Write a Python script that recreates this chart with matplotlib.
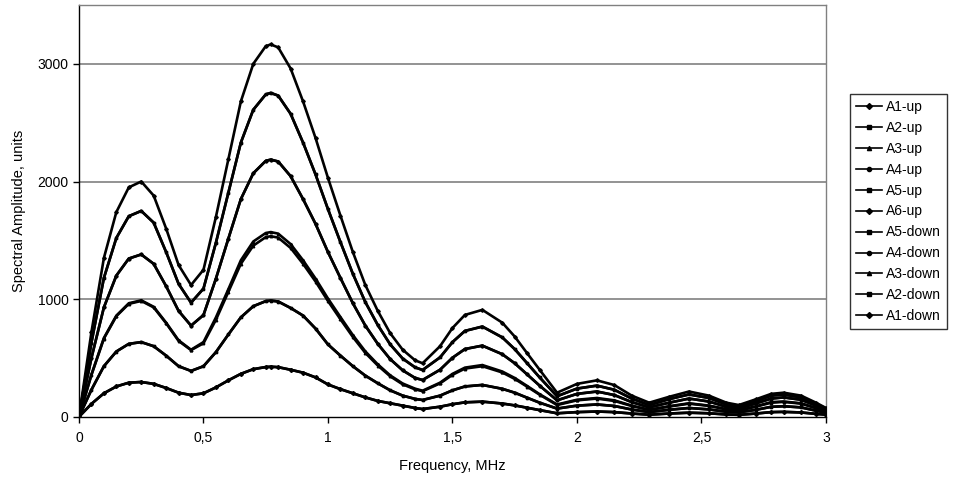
import numpy as np
import matplotlib
matplotlib.use("Agg")
import matplotlib.pyplot as plt
from matplotlib.ticker import FixedLocator, FuncFormatter

plt.rcParams['font.family'] = ['Liberation Sans', 'DejaVu Sans']

# frequency points, MHz
freq = [0, 0.05, 0.1, 0.15, 0.2, 0.25, 0.3, 0.35, 0.4, 0.45,
        0.5, 0.55, 0.6, 0.65, 0.7, 0.75, 0.77, 0.8, 0.85, 0.9,
        0.95, 1.0, 1.05, 1.1, 1.15, 1.2, 1.25, 1.3, 1.35, 1.38,
        1.45, 1.5, 1.55, 1.62, 1.7, 1.75, 1.8, 1.85, 1.92,
        2.0, 2.08, 2.15, 2.22, 2.29, 2.37, 2.45, 2.53, 2.6,
        2.65, 2.72, 2.78, 2.83, 2.9, 2.96, 3.0]

# spectral amplitude, units
a6 = [0, 720, 1350, 1740, 1950, 2000, 1880, 1600, 1290, 1120,
      1250, 1700, 2190, 2680, 3000, 3150, 3165, 3140, 2960, 2680,
      2370, 2030, 1710, 1400, 1120, 900, 710, 570, 480, 455,
      600, 755, 866, 909, 800, 682, 540, 400, 205,
      280, 310, 270, 180, 120, 170, 215, 180, 120,
      100, 150, 195, 205, 180, 120, 75]
a5 = [0, 630, 1180, 1520, 1705, 1750, 1650, 1400, 1130, 970,
      1090, 1480, 1905, 2330, 2610, 2740, 2753, 2730, 2575, 2330,
      2060, 1765, 1485, 1215, 975, 780, 615, 495, 420, 398,
      505, 635, 730, 767, 675, 575, 455, 335, 175,
      240, 265, 230, 155, 100, 150, 190, 160, 105,
      85, 135, 180, 190, 165, 110, 70]
a4 = [0, 500, 930, 1200, 1345, 1380, 1300, 1110, 900, 775,
      865, 1175, 1515, 1850, 2070, 2175, 2186, 2170, 2045, 1850,
      1640, 1400, 1180, 965, 775, 620, 490, 395, 330, 313,
      400, 502, 576, 605, 532, 455, 360, 265, 140,
      195, 215, 185, 125, 80, 120, 155, 130, 85,
      70, 115, 155, 165, 145, 95, 60]
a3_up = [0, 360, 670, 860, 965, 990, 935, 800, 650, 570,
         635, 845, 1085, 1330, 1490, 1562, 1570, 1557, 1468, 1330,
         1175, 1005, 848, 694, 556, 446, 352, 283, 239, 222,
         290, 365, 418, 440, 385, 330, 262, 192, 105,
         145, 160, 140, 95, 60, 90, 115, 95, 65,
         55, 90, 125, 130, 115, 75, 50]
a3_down = [0, 355, 665, 855, 960, 985, 930, 795, 645, 567,
           625, 825, 1062, 1300, 1455, 1527, 1535, 1523, 1435, 1300,
           1150, 984, 829, 678, 543, 436, 344, 276, 233, 218,
           284, 357, 410, 430, 377, 322, 256, 188, 100,
           140, 155, 135, 92, 58, 87, 112, 93, 63,
           53, 87, 120, 127, 112, 73, 48]
a2 = [0, 230, 430, 555, 620, 635, 600, 520, 430, 390,
      430, 550, 700, 845, 940, 983, 988, 980, 925, 860,
      750, 615, 520, 430, 350, 285, 225, 180, 152, 143,
      180, 225, 258, 271, 238, 205, 162, 120, 70,
      95, 105, 92, 62, 40, 60, 75, 63, 43,
      38, 60, 85, 90, 80, 52, 35]
a1 = [0, 110, 200, 258, 290, 296, 280, 245, 205, 185,
      200, 250, 310, 365, 405, 423, 426, 422, 400, 375,
      335, 275, 235, 200, 165, 135, 115, 95, 75, 66,
      86, 107, 123, 129, 113, 97, 77, 57, 30,
      40, 45, 40, 28, 18, 28, 35, 30, 20,
      17, 28, 40, 42, 37, 25, 18]

labels = ['A1-up', 'A2-up', 'A3-up', 'A4-up', 'A5-up', 'A6-up',
          'A5-down', 'A4-down', 'A3-down', 'A2-down', 'A1-down']
series = [a1, a2, a3_up, a4, a5, a6, a5, a4, a3_down, a2, a1]
markers = ['D', 's', '^', 'o', 's', 'D', 's', 'o', '^', 's', 'D']

fig = plt.figure(figsize=(9.54, 4.78), dpi=100)
ax = fig.add_axes([0.0828, 0.128, 0.7830, 0.8615])

for values, name, mk in zip(series, labels, markers):
    ax.plot(freq, values, color='black', linewidth=1.9, marker=mk,
            markersize=1.8, label=name, zorder=3)

ax.set_xlim(0, 3)
ax.set_ylim(0, 3500)
ax.xaxis.set_major_locator(FixedLocator([0, 0.5, 1, 1.5, 2, 2.5, 3]))
ax.yaxis.set_major_locator(FixedLocator([0, 1000, 2000, 3000]))
ax.xaxis.set_major_formatter(FuncFormatter(lambda v, p: ('%g' % v).replace('.', ',')))
ax.yaxis.set_major_formatter(FuncFormatter(lambda v, p: '%d' % v))
ax.tick_params(direction='out', length=4, width=1, labelsize=10, colors='black')
ax.tick_params(axis='x', pad=6)

for y in [1000, 2000, 3000]:
    ax.axhline(y, color='#808080', linewidth=1.2, zorder=1)

ax.spines['left'].set_color('black')
ax.spines['bottom'].set_color('black')
ax.spines['top'].set_color('#808080')
ax.spines['right'].set_color('#808080')
for s in ax.spines.values():
    s.set_linewidth(1.0)

ax.set_xlabel('Frequency, MHz', fontsize=10.5, labelpad=10)
ax.set_ylabel('Spectral Amplitude, units', fontsize=10.5, labelpad=8)

leg = ax.legend(loc='center left', bbox_to_anchor=(850 / 954, 1 - 211.5 / 478),
                bbox_transform=fig.transFigure, fontsize=10, frameon=True,
                fancybox=False, edgecolor='black', handlelength=1.9,
                handletextpad=0.3, labelspacing=0.5, borderpad=0.4,
                borderaxespad=0)
leg.get_frame().set_linewidth(1.0)
for line in leg.get_lines():
    line.set_linewidth(1.2)
    line.set_markersize(3)

fig.savefig('out.png', dpi=100, facecolor='white')
